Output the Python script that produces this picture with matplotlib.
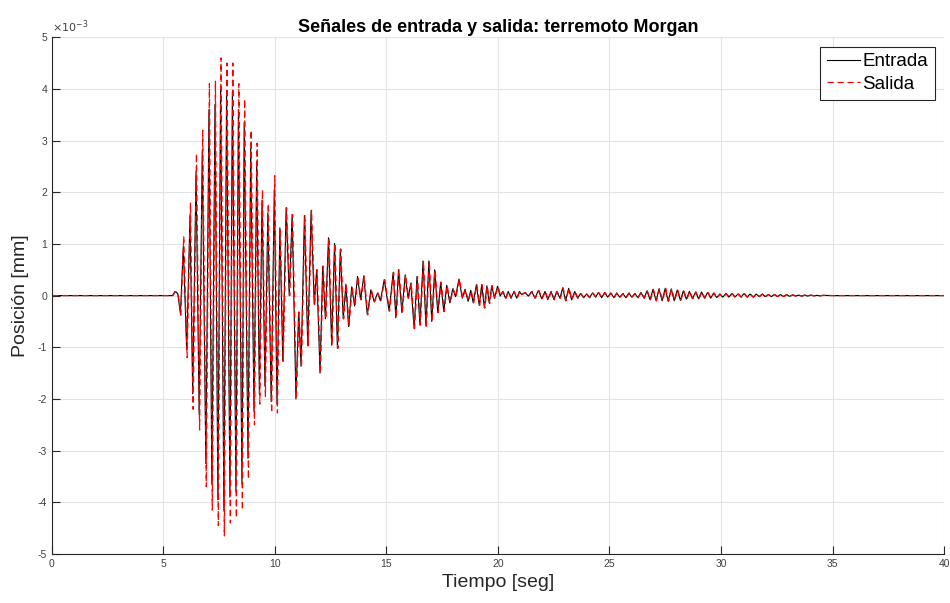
import numpy as np
import matplotlib
matplotlib.use("Agg")
import matplotlib.pyplot as plt

# picos de la señal (tiempo en s, posición en 1e-3 mm)
# tramo fuerte: entrada y salida se separan
t_fuerte = [0.0, 5.40, 5.52, 5.64, 5.76, 5.89, 6.04, 6.19, 6.31, 6.46, 6.60, 6.74, 6.90,
            7.04, 7.17, 7.31, 7.44, 7.56, 7.71, 7.83, 7.98, 8.09, 8.25, 8.36, 8.52, 8.62,
            8.79, 8.91, 9.06, 9.18, 9.30, 9.42, 9.55, 9.68, 9.83, 9.97, 10.09]
entrada_fuerte = [0, 0, 0.08, 0.04, -0.35, 0.95, -1.05, 1.55, -1.9, 2.4, -2.3, 2.8, -3.25,
                  3.6, -3.65, 3.7, -3.95, 4.0, -4.15, 3.95, -3.9, 3.95, -3.8, 3.6, -3.65, 3.35,
                  -3.15, 2.85, -2.25, 2.6, -1.9, 1.85, -1.75, 1.6, -2.05, 2.05, -2.1]
salida_fuerte = [0, 0, 0.08, 0.04, -0.38, 1.15, -1.2, 1.8, -2.2, 2.75, -2.6, 3.2, -3.7,
                 4.1, -4.15, 4.15, -4.45, 4.6, -4.65, 4.5, -4.4, 4.5, -4.3, 4.1, -4.15, 3.8,
                 -3.55, 3.2, -2.5, 2.95, -2.1, 2.05, -1.95, 1.78, -2.27, 2.32, -2.27]

# coda (10-20 s), casi igual en ambas
t_coda = [10.22, 10.35, 10.50, 10.64, 10.77, 10.94, 11.06, 11.17, 11.32, 11.47, 11.62, 11.76,
          11.87, 12.02, 12.14, 12.26, 12.40, 12.54, 12.67, 12.80, 12.93, 13.06, 13.18, 13.30,
          13.44, 13.57, 13.70, 13.84, 13.98, 14.14, 14.30, 14.45, 14.60, 14.73, 14.90, 15.12,
          15.30, 15.42, 15.54, 15.69, 15.84, 15.97, 16.09, 16.24, 16.37, 16.50, 16.64, 16.77,
          16.90, 17.03, 17.16, 17.30, 17.43, 17.57, 17.70, 17.84, 17.97, 18.10, 18.25, 18.40,
          18.52, 18.66, 18.78, 18.89, 19.03, 19.16, 19.27, 19.39, 19.50, 19.61, 19.72, 19.84,
          19.98]
v_coda = [1.31, -1.27, 1.70, 0.0, 1.57, -2.0, -0.32, -1.37, 1.55, -0.97, 1.65, -0.17,
          0.5, -1.5, 0.57, -0.45, 1.12, -0.96, 1.01, -1.02, 0.9, -0.45, 0.22, -0.6,
          0.17, -0.2, 0.37, -0.08, 0.38, -0.37, 0.11, -0.12, 0.05, -0.1, 0.31, -0.3,
          0.45, -0.43, 0.5, -0.33, 0.4, -0.05, 0.24, -0.64, 0.37, -0.57, 0.67, -0.59,
          0.67, -0.5, 0.5, -0.33, 0.26, -0.31, 0.2, -0.14, 0.13, -0.02, 0.32, -0.05,
          0.12, -0.11, 0.1, -0.14, 0.21, -0.19, 0.21, -0.24, 0.19, -0.15, 0.19, -0.05,
          0.18]

# cola (20-40 s)
t_cola = [20.10, 20.21, 20.34, 20.46, 20.58, 20.72, 20.84, 20.96, 21.06, 21.21,
          21.36, 21.51, 21.66, 21.81, 21.96, 22.11, 22.23, 22.38, 22.51, 22.63,
          22.78, 22.90, 23.03, 23.17, 23.30, 23.44, 23.57, 23.70, 23.84, 23.97,
          24.10, 24.24, 24.38, 24.50, 24.65, 24.78, 24.92, 25.05, 25.20, 25.32,
          25.46, 25.60, 25.73, 25.87, 26.00, 26.14, 26.27, 26.41, 26.55, 26.68,
          26.82, 26.95, 27.09, 27.22, 27.36, 27.50, 27.63, 27.77, 27.90, 28.04,
          28.18, 28.31, 28.45, 28.58, 28.72, 28.86, 28.99, 29.13, 29.26, 29.40,
          29.54, 29.67, 29.81, 29.94, 30.08, 30.22, 30.35, 30.49, 30.62, 30.76,
          30.90, 31.03, 31.17, 31.30, 31.44, 31.58, 31.71, 31.85, 31.98, 32.12,
          32.26, 32.39, 32.53, 32.66, 32.80, 32.94, 33.07, 33.21, 33.34, 33.48,
          33.62, 33.75, 33.89, 34.02, 34.16, 34.30, 34.43, 34.57, 35.00, 40.00]
v_cola = [-0.01, 0.08, -0.05, 0.08, -0.05, 0.08, -0.05, 0.08, 0.02, 0.06,
          -0.01, 0.08, -0.05, 0.10, -0.06, 0.08, -0.08, 0.08, -0.08, 0.08,
          -0.05, 0.15, -0.10, 0.14, -0.08, 0.08, -0.05, 0.04, -0.04, 0.03,
          -0.04, 0.05, -0.03, 0.06, -0.04, 0.06, -0.03, 0.05, -0.04, 0.05,
          -0.03, 0.04, -0.04, 0.05, -0.03, 0.04, -0.04, 0.06, -0.05, 0.09,
          -0.08, 0.12, -0.10, 0.13, -0.10, 0.14, -0.11, 0.13, -0.10, 0.11,
          -0.09, 0.09, -0.07, 0.08, -0.06, 0.07, -0.06, 0.07, -0.05, 0.06,
          -0.05, 0.05, -0.04, 0.03, -0.03, 0.04, -0.03, 0.04, -0.03, 0.03,
          -0.03, 0.04, -0.03, 0.03, -0.03, 0.03, -0.02, 0.03, -0.02, 0.02,
          -0.02, 0.02, -0.02, 0.02, -0.02, 0.02, -0.015, 0.015, -0.01, 0.01,
          -0.01, 0.01, -0.01, 0.01, -0.005, 0.005, -0.005, 0.005, 0.0, 0.0]

retardo_salida = 0.02  # s

t = np.array(t_fuerte + t_coda + t_cola)
entrada = np.array(entrada_fuerte + v_coda + v_cola)
salida = np.array(salida_fuerte + v_coda + v_cola)

plt.rcParams['font.family'] = ['Liberation Sans', 'DejaVu Sans']
plt.rcParams['axes.unicode_minus'] = False

fig = plt.figure(figsize=(9.5, 6.03), dpi=100)
ax = fig.add_axes([0.0547, 0.0813, 0.939, 0.857])

ax.plot(t, entrada, color='k', linewidth=0.8, label='Entrada')
ax.plot(t + retardo_salida, salida, color='r', linestyle='--', dashes=(5, 3),
        linewidth=0.9, label='Salida')

ax.set_xlim(0, 40)
ax.set_ylim(-5, 5)
ax.set_xticks(np.arange(0, 41, 5))
ax.set_yticks(np.arange(-5, 6, 1))
ax.set_yticklabels([str(v) for v in range(-5, 6)])

# factor de escala del eje y
ax.text(0.0, 1.004, r'$\times 10^{-3}$', transform=ax.transAxes, fontsize=8,
        color='#404040', ha='left', va='bottom')

ax.grid(True, color='#e3e3e3', linewidth=0.8)
ax.set_axisbelow(True)
for s in ['top', 'right']:
    ax.spines[s].set_visible(False)
for s in ['left', 'bottom']:
    ax.spines[s].set_color('#262626')
    ax.spines[s].set_linewidth(0.8)
ax.tick_params(direction='in', length=6, width=0.8, colors='#262626',
               labelsize=7.5, labelcolor='#404040')

ax.set_title('Señales de entrada y salida: terremoto Morgan', fontsize=13,
             fontweight='bold', pad=4)
ax.set_xlabel('Tiempo [seg]', fontsize=14, color='#262626', labelpad=4)
ax.set_ylabel('Posición [mm]', fontsize=14, color='#262626', labelpad=6)

leg = ax.legend(loc='upper right', fontsize=13.5, frameon=True, fancybox=False,
                edgecolor='#262626', framealpha=1, handlelength=1.8, handletextpad=0.1,
                borderpad=0.35, labelspacing=0.3, borderaxespad=0.5)
leg.get_frame().set_linewidth(0.8)

fig.savefig('out.png', dpi=100)
